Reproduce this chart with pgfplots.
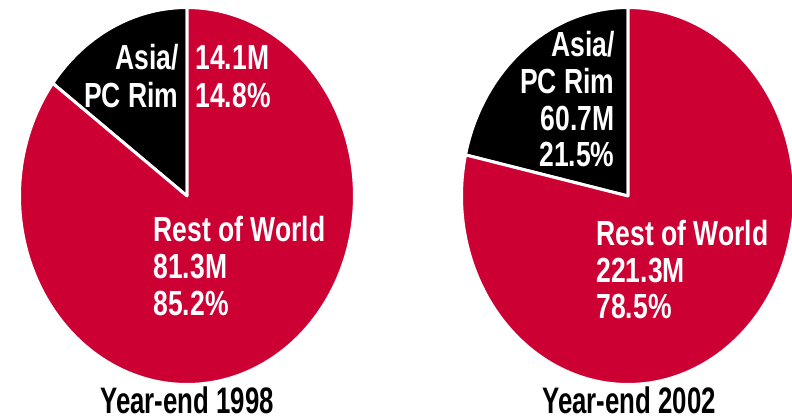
\documentclass[border=0pt]{standalone}
\usepackage{pgfplots}
\pgfplotsset{compat=1.18}
\usepackage{fontspec}
\newfontfamily\lab[FakeStretch=0.76]{Liberation Sans}
\newfontfamily\ttl[FakeStretch=0.70]{Liberation Sans}
\definecolor{worldred}{RGB}{204,0,51}

% shares (percent) of Asia/PC Rim, rest is Rest of World
\def\asiaA{14.8}  % 1998
\def\asiaB{21.5}  % 2002
\def\cy{196}
\def\ry{188.5}

% #1 centre x, #2 x radius, #3 Asia share in percent
\newcommand{\pie}[3]{%
  \addplot[fill=black, draw=white, line width=3bp, line join=round,
    domain=90:90+3.6*#3, samples=60, variable=\t]
    ({#1+#2*cos(\t)}, {\cy-\ry*sin(\t)}) -- (axis cs:#1,\cy) -- cycle;
  \addplot[fill=worldred, draw=white, line width=3bp, line join=round,
    domain=90+3.6*#3:450, samples=200, variable=\t]
    ({#1+#2*cos(\t)}, {\cy-\ry*sin(\t)}) -- (axis cs:#1,\cy) -- cycle;
}

\begin{document}
\begin{tikzpicture}
\path[use as bounding box] (0,0) rectangle (792bp,419bp);
\begin{axis}[
    at={(0,0)}, anchor=south west,
    width=792bp, height=419bp, scale only axis,
    xmin=0, xmax=792, ymin=0, ymax=419,
    y dir=reverse,
    hide axis, clip=false,
    every node/.style={inner sep=0pt, outer sep=0pt},
]
\pie{187}{167.5}{\asiaA}
\pie{628}{166.5}{\asiaB}

% 1998 labels
\begin{scope}[font=\lab\bfseries\fontsize{35}{37}\selectfont, white]
\node[anchor=base east] at (axis cs:182,70) {Asia/};
\node[anchor=base east] at (axis cs:182,107) {PC Rim};
\node[anchor=base west] at (axis cs:192,70) {14.1M};
\node[anchor=base west] at (axis cs:192,107) {14.8\%};
\node[anchor=base west] at (axis cs:150,241) {Rest of World};
\node[anchor=base west] at (axis cs:150,278) {81.3M};
\node[anchor=base west] at (axis cs:150,315) {85.2\%};
% 2002 labels
\node[anchor=base east] at (axis cs:618,57) {Asia/};
\node[anchor=base east] at (axis cs:618,93) {PC Rim};
\node[anchor=base east] at (axis cs:618,130) {60.7M};
\node[anchor=base east] at (axis cs:618,166) {21.5\%};
\node[anchor=base west] at (axis cs:593,245) {Rest of World};
\node[anchor=base west] at (axis cs:593,282) {221.3M};
\node[anchor=base west] at (axis cs:593,318) {78.5\%};
\end{scope}

\node[anchor=base, font=\ttl\bfseries\fontsize{37}{39}\selectfont] at (axis cs:187,413) {Year-end 1998};
\node[anchor=base, font=\ttl\bfseries\fontsize{37}{39}\selectfont] at (axis cs:629,413) {Year-end 2002};
\end{axis}
\end{tikzpicture}
\end{document}
